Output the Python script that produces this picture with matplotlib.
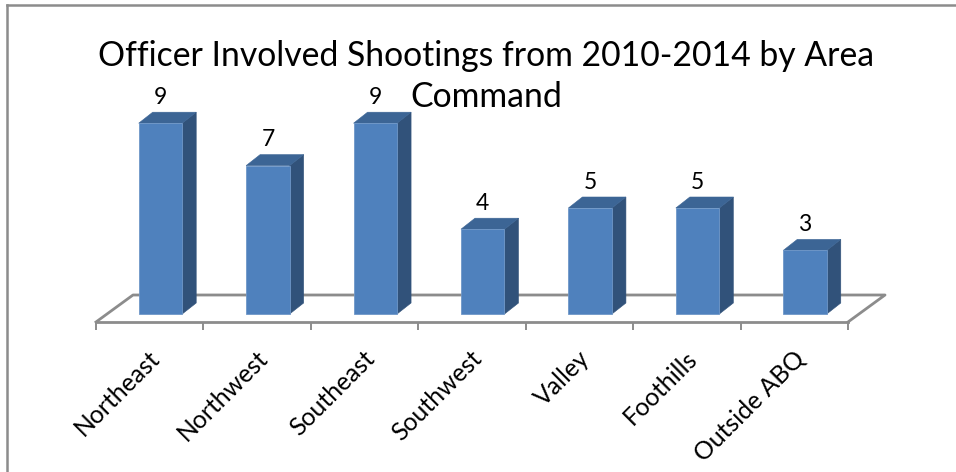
#!/usr/bin/env python
import matplotlib
matplotlib.use('Agg')
import matplotlib.pyplot as plt
from matplotlib.lines import Line2D
from matplotlib.patches import Polygon
from matplotlib.transforms import ScaledTranslation

AREAS = ['Northeast', 'Northwest', 'Southeast', 'Southwest', 'Valley', 'Foothills', 'Outside ABQ']
SHOOTINGS = [9, 7, 9, 4, 5, 5, 3]
TITLE = 'Officer Involved Shootings from 2010-2014 by Area\nCommand'

W, H = 956, 472
UNIT_X = 752 / 7   # px per category
UNIT_Y = 21.2      # px per shooting
DEPTH_X = 14 / UNIT_X
DEPTH_Y = 11 / UNIT_Y
BAR_WIDTH = 0.405
BAR_OFFSET = 0.60
FLOOR_FRONT = -8 / UNIT_Y
FLOOR_BACK = 19 / UNIT_Y
FLOOR_SHIFT = 37 / UNIT_X

FRONT = '#4F81BD'
SIDE = '#31527A'
TOP = '#3C6595'
EDGE = '#6F97C8'
GRID = '#8C8C8C'

plt.rcParams['font.family'] = ['Lato', 'DejaVu Sans']

fig = plt.figure(figsize=(W / 100, H / 100), dpi=100)
bottom_px = 314 - FLOOR_FRONT * UNIT_Y
ymax = 10.0
ax = fig.add_axes([96 / W, (H - bottom_px) / H, 752 / W, (ymax - FLOOR_FRONT) * UNIT_Y / H])
ax.set_xlim(0, len(AREAS))
ax.set_ylim(FLOOR_FRONT, ymax)
ax.patch.set_visible(False)

# floor
ax.plot([0, FLOOR_SHIFT, len(AREAS) + FLOOR_SHIFT, len(AREAS)],
        [FLOOR_FRONT, FLOOR_BACK, FLOOR_BACK, FLOOR_FRONT],
        color=GRID, lw=2, clip_on=False, zorder=1)

# bars
positions = [i + BAR_OFFSET for i in range(len(AREAS))]
ax.bar(positions, SHOOTINGS, BAR_WIDTH, color=FRONT, edgecolor=EDGE, linewidth=0.6, zorder=3)
for x, v in zip(positions, SHOOTINGS):
    r = x + BAR_WIDTH / 2
    l = x - BAR_WIDTH / 2
    ax.add_patch(Polygon([(r, 0), (r + DEPTH_X, DEPTH_Y), (r + DEPTH_X, v + DEPTH_Y), (r, v)],
                         facecolor=SIDE, edgecolor=SIDE, linewidth=0.4, zorder=2, clip_on=False))
    ax.add_patch(Polygon([(l, v), (l + DEPTH_X, v + DEPTH_Y), (r + DEPTH_X, v + DEPTH_Y), (r, v)],
                         facecolor=TOP, edgecolor=TOP, linewidth=0.4, zorder=2, clip_on=False))
    ax.annotate(str(v), (x, v), xytext=(0, 11), textcoords='offset points',
                ha='center', va='bottom', fontsize=16.5, color='black', annotation_clip=False)

# axis
for side in ['left', 'top', 'right']:
    ax.spines[side].set_visible(False)
ax.spines['bottom'].set_color(GRID)
ax.spines['bottom'].set_linewidth(2)
ax.set_yticks([])
ax.set_xticks(range(len(AREAS) + 1))
ax.set_xticklabels([])
ax.tick_params(axis='x', which='major', length=6, width=1.4, color=GRID)
ax.set_xticks(positions, minor=True)
ax.set_xticklabels(AREAS, minor=True, rotation=45, ha='right', rotation_mode='anchor', fontsize=17.8)
ax.tick_params(axis='x', which='minor', length=0, pad=17.5)
shift = ScaledTranslation(-9 / 72, 0, fig.dpi_scale_trans)
for label in ax.get_xticklabels(minor=True):
    label.set_transform(label.get_transform() + shift)

fig.text(486 / W, 1 - 76.5 / H, TITLE, ha='center', va='center', fontsize=24.3,
         linespacing=1.36, color='black')

# chart frame
frame = dict(color=GRID, lw=1.8, transform=fig.transFigure)
fig.add_artist(Line2D([7 / W, 7 / W], [0, 1 - 5 / H], **frame))
fig.add_artist(Line2D([7 / W, 1], [1 - 5 / H, 1 - 5 / H], **frame))

fig.savefig('out.png', dpi=100)
